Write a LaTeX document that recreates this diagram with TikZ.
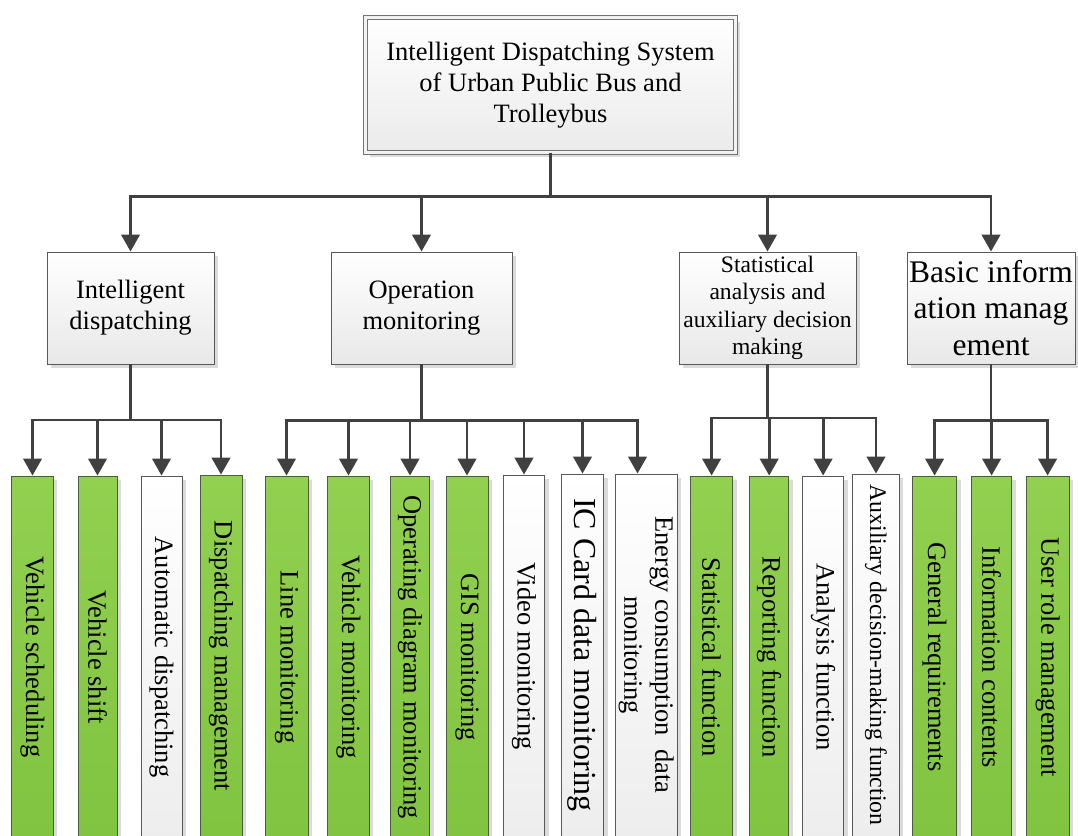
\documentclass[tikz,border=0pt]{standalone}
\usepackage{fontspec}
\setmainfont{Liberation Serif}
\usepackage{graphicx}
\usetikzlibrary{arrows.meta,shadows}

\definecolor{linkgray}{HTML}{404040}
\definecolor{boxline}{HTML}{595959}
\definecolor{leafgreen}{RGB}{146,208,80}
\definecolor{leafgreendk}{RGB}{128,196,64}
\definecolor{greenline}{RGB}{78,92,62}

% Corpi del testo
\newcommand{\testo}{\fontsize{26.5}{31}\selectfont}
\newcommand{\ruota}[1]{\rotatebox[origin=c]{-90}{#1}}

\begin{document}
\begin{tikzpicture}[x=1pt, y=-1pt]
% Stili per riquadri e collegamenti
\tikzset{
  conn/.style={draw=linkgray, line width=2.8pt, -{Triangle[width=18.5pt,length=17pt]}},
  box/.style={draw=boxline, line width=0.9pt, inner sep=0pt,
    drop shadow={shadow xshift=4pt, shadow yshift=-4pt, fill=black!14, opacity=1}},
  midbox/.style={box, top color=white, bottom color=black!9, align=center,
    minimum height=112pt, font=\testo},
  greenleaf/.style={box, draw=greenline, top color=leafgreen, bottom color=leafgreendk,
    minimum height=362pt, font=\testo},
  whiteleaf/.style={box, top color=white, bottom color=black!7,
    minimum height=362pt, font=\testo}
}
\useasboundingbox (0,0) rectangle (1078,835);

% --- RADICE ---
\node[box, draw=black!55, double=white!95!black, double distance=3.8pt,
      top color=white, bottom color=black!8, align=center,
      minimum width=370pt, minimum height=135pt, font=\testo]
  (root) at (550.5,85) {Intelligent Dispatching System\\of Urban Public Bus and\\Trolleybus};

% --- SECONDO LIVELLO ---
\node[midbox, minimum width=167pt] (ida) at (130.5,308) {Intelligent\\dispatching};
\node[midbox, minimum width=181pt] (opm) at (421.5,308) {Operation\\monitoring};
\node[midbox, minimum width=177pt, font=\fontsize{23.6}{27.5}\selectfont]
  (sad) at (767.5,308) {Statistical\\analysis and\\auxiliary decision\\making};
\node[midbox, minimum width=168pt, font=\fontsize{31.5}{36.5}\selectfont]
  (bim) at (991,308) {Basic inform\\ation manag\\ement};

% --- FOGLIE (testo verticale) ---
\node[greenleaf, minimum width=41.6pt] (vs)  at (32.5,657)  {\ruota{Vehicle scheduling}};
\node[greenleaf, minimum width=39pt]   (vsh) at (97.5,657)  {\ruota{Vehicle shift}};
\node[whiteleaf, minimum width=41pt]   (ad)  at (161.5,657) {\ruota{Automatic dispatching}};
\node[greenleaf, minimum width=42pt]   (dm)  at (221,656)   {\ruota{Dispatching management}};

\node[greenleaf, minimum width=43pt]   (lm)  at (286.5,657) {\ruota{Line monitoring}};
\node[greenleaf, minimum width=41.7pt] (vm)  at (348.5,657) {\ruota{Vehicle monitoring}};
\node[greenleaf, minimum width=39.2pt] (odm) at (410,657)   {\ruota{Operating diagram monitoring}};
\node[greenleaf, minimum width=42pt]   (gis) at (467,657)   {\ruota{GIS monitoring}};
\node[whiteleaf, minimum width=41.7pt] (vid) at (524,656)   {\ruota{Video monitoring}};
\node[whiteleaf, minimum width=42pt, font=\fontsize{32}{36}\selectfont]
  (ic) at (582.5,655) {\ruota{IC Card data monitoring}};
\node[whiteleaf, minimum width=60pt]   (en)  at (646,655)
  {\ruota{\begin{tabular}{@{}c@{}}Energy consumption\ \ data\\monitoring\end{tabular}}};

\node[greenleaf, minimum width=42.3pt] (sf)  at (711.6,657) {\ruota{Statistical function}};
\node[greenleaf, minimum width=39.2pt] (rf)  at (769.2,657) {\ruota{Reporting function}};
\node[whiteleaf, minimum width=41.3pt] (af)  at (823.1,657) {\ruota{Analysis function}};
\node[whiteleaf, minimum width=46.6pt, font=\fontsize{23.8}{28}\selectfont]
  (adm) at (876,655) {\ruota{Auxiliary decision-making function}};

\node[greenleaf, minimum width=44pt]   (gr)  at (934.6,657) {\ruota{General requirements}};
\node[greenleaf, minimum width=40pt]   (inf) at (991.6,657) {\ruota{Information contents}};
\node[greenleaf, minimum width=42.7pt] (ur)  at (1047.6,657) {\ruota{User role management}};

% punto d'arrivo della freccia sul riquadro energia (non centrato)
\coordinate (ent) at ([xshift=-8.5pt]en.north);

% --- COLLEGAMENTI ---
\foreach \c in {ida,opm,sad,bim}
  \draw[conn] (root.south) -- ++(0,43.5) -| (\c.north);

\foreach \c in {vs,vsh,ad,dm}
  \draw[conn] (ida.south) -- ++(0,55.5) -| (\c.north);
\foreach \c in {lm,vm,odm,gis,vid,ic}
  \draw[conn] (opm.south) -- ++(0,56) -| (\c.north);
\draw[conn] (opm.south) -- ++(0,56) -| (ent);
\foreach \c in {sf,rf,af,adm}
  \draw[conn] (sad.south) -- ++(0,53.5) -| (\c.north);
\foreach \c in {gr,inf,ur}
  \draw[conn] (bim.south) -- ++(0,56) -| (\c.north);

\end{tikzpicture}
\end{document}
